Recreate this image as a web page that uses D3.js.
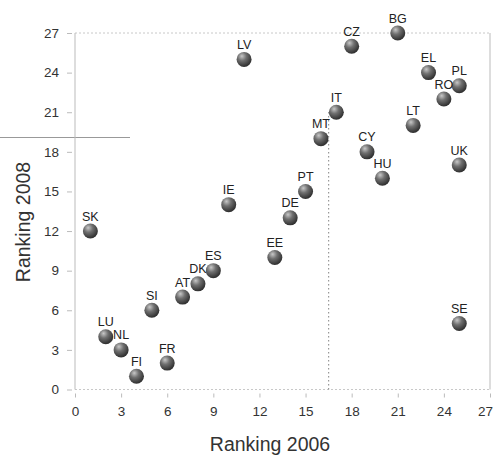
<!DOCTYPE html>
<html>
<head>
<meta charset="utf-8">
<script src="https://cdn.jsdelivr.net/npm/d3@7"></script>
<style>
  html, body { margin: 0; padding: 0; background: #fff; }
  svg { display: block; }
</style>
</head>
<body>
<svg id="chart" width="493" height="455"></svg>
<script>
const countries = ["SK","LU","NL","FI","SI","FR","AT","DK","ES","IE","LV","EE","DE","PT","MT","IT","CZ","CY","HU","BG","LT","EL","RO","PL","UK","SE"];
const rank2006 = [1,2,3,4,5,6,7,8,9,10,11,13,14,15,16,17,18,19,20,21,22,23,24,25,25,25];
const rank2008 = [12,4,3,1,6,2,7,8,9,14,25,10,13,15,19,21,26,18,16,27,20,24,22,23,17,5];
const xTicks = [0,3,6,9,12,15,18,21,24,27];
const yTicks = [0,3,6,9,12,15,18,21,24,27];
const medianX = 16.5;
const medianTopY = 21;

const svg = d3.select("#chart");
const x = d3.scaleLinear().domain([0, 27]).range([75, 490]);
const y = d3.scaleLinear().domain([0, 27]).range([389.5, 33]);

const defs = svg.append("defs");
const g = defs.append("radialGradient").attr("id", "ball")
  .attr("cx", "38%").attr("cy", "32%").attr("r", "65%").attr("fx", "35%").attr("fy", "28%");
g.append("stop").attr("offset", "0%").attr("stop-color", "#c8c8c8");
g.append("stop").attr("offset", "45%").attr("stop-color", "#707070");
g.append("stop").attr("offset", "100%").attr("stop-color", "#333");

// scan artifact line
svg.append("line").attr("x1", 0).attr("x2", 130).attr("y1", 137.5).attr("y2", 137.5)
  .attr("stroke", "#999").attr("stroke-width", 1);

// frame
const frame = svg.append("g").attr("stroke", "#c8c8c8").attr("stroke-width", 1).attr("fill", "none");
frame.append("line").attr("x1", x(0)).attr("x2", x(27)).attr("y1", y(27)).attr("y2", y(27)).attr("stroke-dasharray", "2,2");
frame.append("line").attr("x1", x(0)).attr("x2", x(27)).attr("y1", y(0)).attr("y2", y(0)).attr("stroke-dasharray", "2,2");
frame.append("line").attr("x1", x(0)).attr("x2", x(0)).attr("y1", y(0)).attr("y2", y(27)).attr("stroke", "#bbb");
frame.append("line").attr("x1", x(27)).attr("x2", x(27)).attr("y1", y(0)).attr("y2", y(27)).attr("stroke", "#bbb");

// axes
const xAxis = d3.axisBottom(x).tickValues(xTicks).tickSize(4).tickPadding(16);
const yAxis = d3.axisLeft(y).tickValues(yTicks).tickSize(5).tickPadding(8);
const gx = svg.append("g").attr("transform", `translate(0,${y(0) + 4})`).call(xAxis);
const gy = svg.append("g").attr("transform", `translate(${x(0) - 3},0)`).call(yAxis);
[gx, gy].forEach(a => {
  a.select(".domain").remove();
  a.selectAll(".tick line").attr("stroke", "#bbb");
  a.selectAll(".tick text").attr("fill", "#333").style("font-family", "Liberation Sans, Arial, sans-serif").style("font-size", "13.5px");
});
gx.selectAll(".tick text").attr("dy", "0.2em");
gx.selectAll(".tick").filter(d => d === 27).select("text").attr("text-anchor", "end").attr("dx", "2.5px");

// median line
svg.append("line").attr("x1", x(medianX)).attr("x2", x(medianX)).attr("y1", y(0)).attr("y2", y(medianTopY))
  .attr("stroke", "#999").attr("stroke-width", 1.2).attr("stroke-dasharray", "1.5,2.5");

// titles
svg.append("text").attr("x", 270).attr("y", 451).attr("text-anchor", "middle")
  .style("font-family", "Liberation Sans, Arial, sans-serif").style("font-size", "19.5px").attr("fill", "#333")
  .text("Ranking 2006");
svg.append("text").attr("transform", "translate(30,222) rotate(-90)").attr("text-anchor", "middle")
  .style("font-family", "Liberation Sans, Arial, sans-serif").style("font-size", "19.5px").attr("fill", "#333")
  .text("Ranking 2008");

// points
const data = countries.map((c, i) => ({ c, a: rank2006[i], b: rank2008[i] }));
const pts = svg.append("g");
pts.selectAll("circle").data(data).join("circle")
  .attr("cx", d => x(d.a)).attr("cy", d => y(d.b)).attr("r", 7.5)
  .attr("fill", "url(#ball)");
pts.selectAll("text").data(data).join("text")
  .attr("x", d => x(d.a)).attr("y", d => y(d.b) - 10.5).attr("text-anchor", "middle")
  .style("font-family", "Liberation Sans, Arial, sans-serif").style("font-size", "12.5px").attr("fill", "#222")
  .text(d => d.c);
</script>
</body>
</html>
